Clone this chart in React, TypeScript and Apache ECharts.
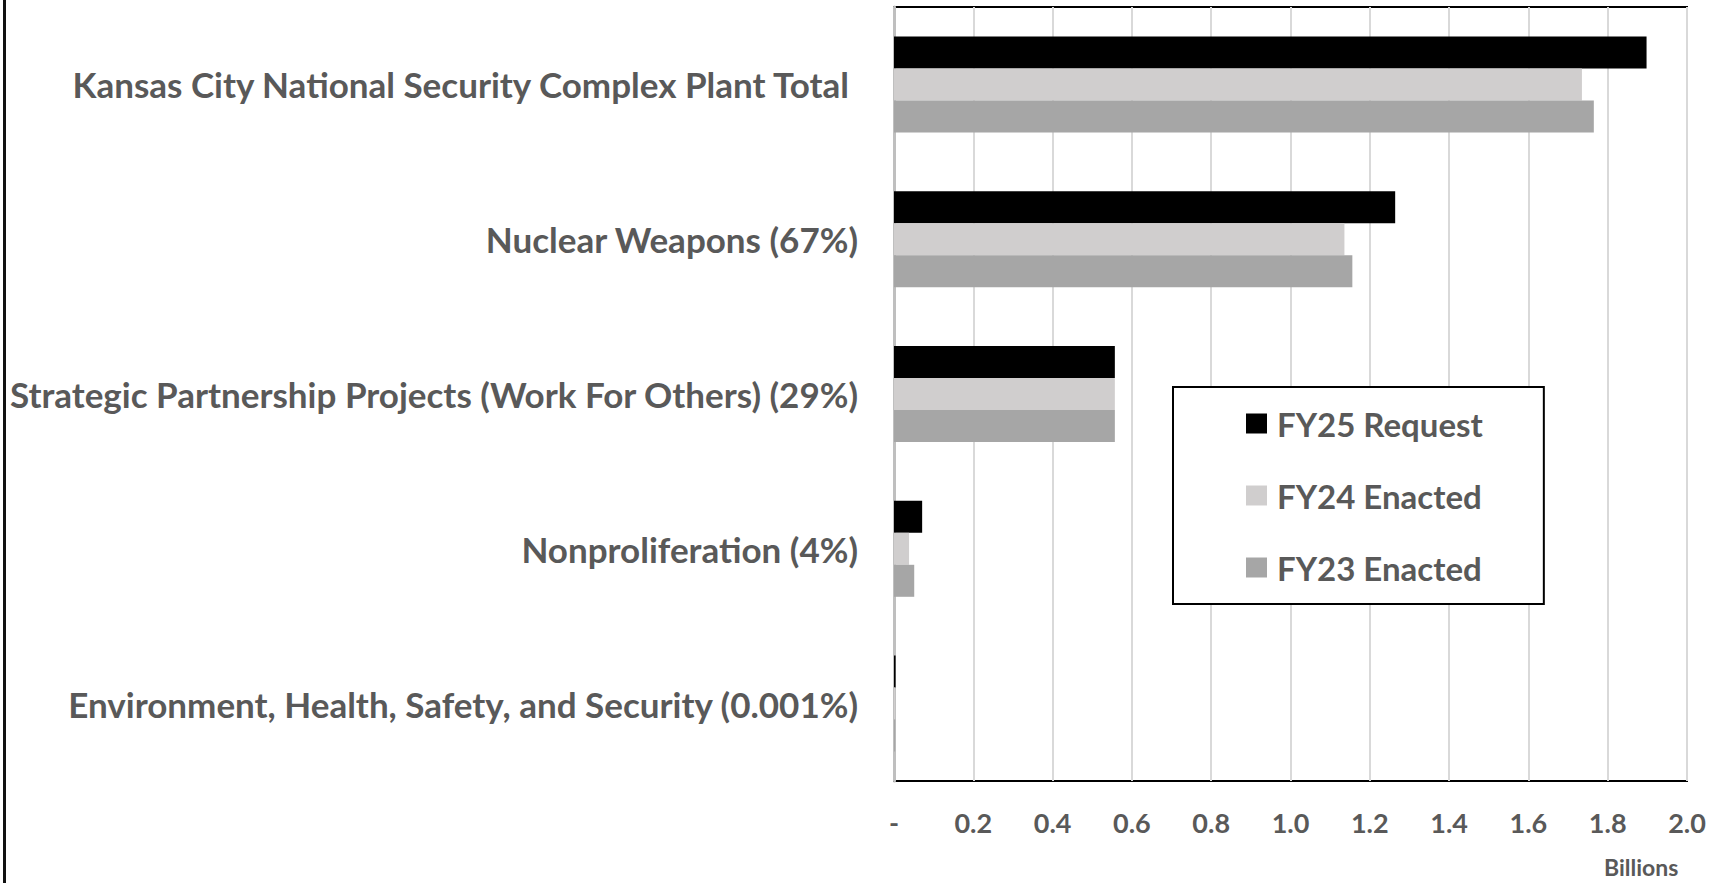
import React, { useEffect, useRef } from "react";
import * as echarts from "echarts";

const categories = [
  "Kansas City National Security Complex Plant Total",
  "Nuclear Weapons (67%)",
  "Strategic Partnership Projects (Work For Others) (29%)",
  "Nonproliferation (4%)",
  "Environment, Health, Safety, and Security (0.001%)",
];
const seriesNames = ["FY25 Request", "FY24 Enacted", "FY23 Enacted"];
const fy25Request = [1.898, 1.264, 0.557, 0.071, 0.004];
const fy24Enacted = [1.735, 1.136, 0.557, 0.038, 0.003];
const fy23Enacted = [1.765, 1.156, 0.557, 0.051, 0.003];
const seriesColors = ["#000000", "#D0CECE", "#A6A6A6"];
const axisMin = 0;
const axisMax = 2.0;
const axisInterval = 0.2;
const axisUnit = "Billions";

const FONT = "Lato";
const TEXT = "#595959";
const LABEL_SIZE = 35;

export default function App() {
  const ref = useRef<HTMLDivElement>(null);
  useEffect(() => {
    if (!ref.current) return;
    const chart = echarts.init(ref.current, null, { renderer: "svg" });
    const values = [fy25Request, fy24Enacted, fy23Enacted];
    const labelFont = {
      color: TEXT,
      fontFamily: FONT,
      fontWeight: "bold",
      fontSize: LABEL_SIZE,
    };
    chart.setOption({
      animation: false,
      backgroundColor: "#ffffff",
      grid: {
        left: 894,
        top: 7,
        right: 31,
        bottom: 102,
        show: true,
        borderColor: "#000000",
        borderWidth: 2,
        containLabel: false,
      },
      xAxis: {
        type: "value",
        min: axisMin,
        max: axisMax,
        interval: axisInterval,
        axisLine: { show: false },
        axisTick: { show: false },
        splitLine: { show: true, lineStyle: { color: "#D9D9D9", width: 2 } },
        axisLabel: {
          margin: 28,
          color: TEXT,
          fontFamily: FONT,
          fontWeight: "bold",
          fontSize: 27,
          formatter: (v: number) => (v === 0 ? "-" : v.toFixed(1)),
        },
      },
      yAxis: {
        type: "category",
        data: categories,
        inverse: true,
        axisTick: { show: false },
        axisLine: { show: true, lineStyle: { color: "#BFBFBF", width: 3 } },
        splitLine: { show: false },
        axisLabel: {
          margin: 36,
          ...labelFont,
          formatter: (v: string, i: number) => (i === 0 ? `{k|${v}}` : v),
          rich: {
            k: { ...labelFont, padding: [0, 9, 0, 0] },
          },
        },
      },
      legend: {
        orient: "vertical",
        left: 1173,
        top: 387,
        data: seriesNames,
        icon: "rect",
        itemWidth: 21,
        itemHeight: 20,
        itemGap: 39,
        padding: [20, 61, 20, 73],
        borderColor: "#000000",
        borderWidth: 2,
        backgroundColor: "#ffffff",
        textStyle: {
          color: TEXT,
          fontFamily: FONT,
          fontWeight: "bold",
          fontSize: 33,
          lineHeight: 33,
          padding: [0, 0, 0, 5],
        },
      },
      graphic: [
        {
          type: "line",
          shape: { x1: 4.5, y1: 0, x2: 4.5, y2: 883 },
          style: { stroke: "#111111", lineWidth: 3 },
        },
        {
          type: "text",
          left: 1604,
          top: 855,
          style: {
            text: axisUnit,
            fill: TEXT,
            font: `bold 23px ${FONT}`,
          },
        },
      ],
      series: seriesNames.map((name, i) => ({
        name,
        type: "bar",
        data: values[i],
        barWidth: 32,
        barGap: "0%",
        itemStyle: { color: seriesColors[i] },
        emphasis: { disabled: true },
      })),
    });
    return () => chart.dispose();
  }, []);
  return (
    <div
      ref={ref}
      style={{ position: "fixed", left: 0, top: 0, width: 1718, height: 883 }}
    />
  );
}
